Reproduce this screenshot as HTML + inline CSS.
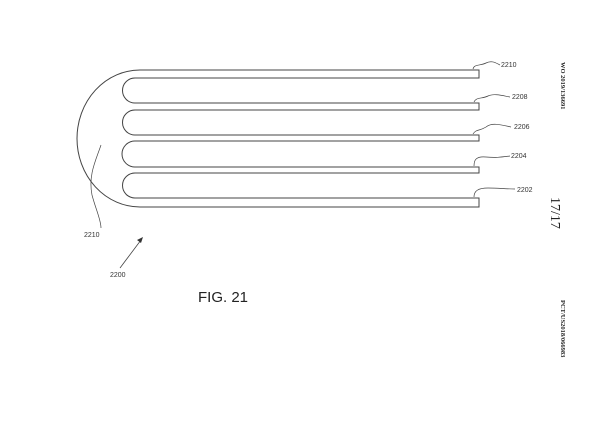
<!DOCTYPE html>
<html><head><style>html,body{margin:0;padding:0;background:#fff;}svg{display:block}</style></head>
<body>
<svg width="600" height="424" viewBox="0 0 600 424" xmlns="http://www.w3.org/2000/svg" font-family="Liberation Sans, sans-serif">
<g fill="none" stroke="#444" stroke-width="1">
<path d="M479,70 H140 A63,68.5 0 0 0 140,207 H479 V198 H135 A12.5,12.5 0 0 1 135,173 H479 V167 H135 A13,13 0 0 1 135,141 H479 V135 H135 A12.5,12.5 0 0 1 135,110 H479 V103 H135 A12.5,12.5 0 0 1 135,78 H479 Z"/>
<path d="M473,69 C474,64 480,66 486,63 C492,60 496,63 500,65" stroke-width="0.7"/>
<path d="M474,102 C476,97 482,99 488,96 C494,93 504,96 510,97" stroke-width="0.7"/>
<path d="M473,134 C476,129 480,131 486,127 C492,122 502,125 511,127" stroke-width="0.7"/>
<path d="M474,166 C474,160 476,156 486,157 C496,158 502,157 510,156" stroke-width="0.7"/>
<path d="M474,197 C474,191 478,188 488,188 C498,188 506,189 515,189" stroke-width="0.7"/>
<path d="M101,145 C96,160 88,175 92,195 C96,210 101,220 101,228" stroke-width="0.7"/>
<path d="M120,268 L141,240" stroke-width="0.8"/>
</g>
<path d="M143,237 L137,240 L141,243 Z" fill="#333"/>
<g font-size="7" fill="#333">
<text x="501" y="67">2210</text>
<text x="512" y="99">2208</text>
<text x="514" y="129">2206</text>
<text x="511" y="158">2204</text>
<text x="517" y="192">2202</text>
<text x="84" y="237">2210</text>
<text x="110" y="277">2200</text>
</g>
<text x="198" y="302" font-size="15" fill="#222">FIG. 21</text>
<g font-family="Liberation Serif, serif" fill="#222">
<text transform="translate(561,62) rotate(90)" font-size="6.5" font-weight="bold">WO 2019/136691</text>
<text transform="translate(551,197) rotate(90)" font-size="14">17/17</text>
<text transform="translate(561,300) rotate(90)" font-size="6.5" font-weight="bold">PCT/US2018/066983</text>
</g>
</svg>
</body></html>
